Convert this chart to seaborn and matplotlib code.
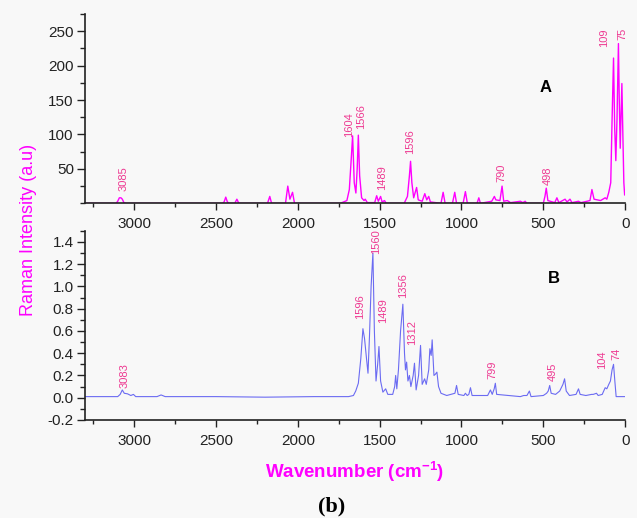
import numpy as np
import pandas as pd
import seaborn as sns
import matplotlib.pyplot as plt
from matplotlib.ticker import FixedLocator, MultipleLocator, FormatStrFormatter

# spectrum A (top): wavenumber / intensity
wn_a = [3300, 3110, 3100, 3090, 3080, 3072, 3062, 3050, 2460, 2450, 2440, 2430, 2420,
        2385, 2372, 2360, 2185, 2171, 2160, 2075, 2061, 2048, 2032, 2020, 1740, 1700,
        1685, 1672, 1665, 1655, 1645, 1637, 1630, 1622, 1610, 1595, 1588, 1575, 1530,
        1518, 1508, 1494, 1485, 1470, 1460, 1350, 1330, 1318, 1311, 1303, 1292, 1274,
        1264, 1240, 1224, 1212, 1200, 1190, 1125, 1112, 1100, 1055, 1041, 1030, 990,
        976, 964, 905, 894, 884, 815, 799, 790, 765, 752, 742, 720, 700, 640, 625, 611,
        600, 500, 490, 482, 472, 430, 417, 405, 367, 355, 337, 325, 285, 270, 215, 203,
        190, 150, 122, 112, 100, 88, 80, 71, 64, 57, 50, 41, 36, 30, 25, 20, 14, 8, 3]
int_a = [0, 0, 3, 8, 8, 6, 1, 0, 0, 2, 9, 2, 0,
         0, 6, 0, 0, 10, 0, 0, 25, 6, 16, 0, 0, 4,
         20, 70, 98, 30, 15, 50, 99, 40, 8, 4, 6, 1, 1,
         11, 3, 10, 2, 4, 0, 0, 10, 40, 61, 30, 8, 23,
         5, 3, 14, 5, 10, 2, 0, 16, 0, 0, 16, 0, 0,
         17, 0, 0, 8, 0, 3, 10, 5, 4, 25, 3, 4, 1, 3, 1, 3,
         0, 0, 10, 22, 4, 1, 8, 1, 6, 2, 6, 1, 3, 1, 4, 20,
         6, 4, 8, 6, 16, 30, 120, 211, 110, 62, 120, 232, 150, 80, 130, 174, 100, 30, 12]

# spectrum B (bottom)
wn_b = [3300, 3100, 3085, 3072, 3060, 3040, 3020, 3004, 2990, 2860, 2835, 2810, 2500,
        2200, 1900, 1690, 1660, 1646, 1630, 1615, 1602, 1592, 1580, 1571, 1562, 1552,
        1541, 1532, 1522, 1512, 1504, 1494, 1480, 1463, 1450, 1420, 1408, 1402, 1395,
        1385, 1372, 1358, 1348, 1342, 1335, 1327, 1318, 1309, 1295, 1287, 1277, 1262,
        1250, 1240, 1225, 1215, 1200, 1193, 1185, 1179, 1168, 1160, 1150, 1140, 1125,
        1090, 1040, 1030, 1020, 985, 976, 965, 955, 945, 935, 840, 823, 812, 800, 793,
        785, 640, 620, 600, 585, 575, 500, 480, 470, 461, 452, 425, 400, 380, 370, 360,
        340, 300, 285, 275, 240, 205, 195, 175, 165, 140, 122, 112, 100, 90, 80, 71,
        63, 55, 0]
int_b = [0.01, 0.01, 0.03, 0.07, 0.04, 0.035, 0.02, 0.03, 0.01, 0.01, 0.025, 0.01, 0.01,
         0.005, 0.01, 0.01, 0.02, 0.06, 0.13, 0.35, 0.62, 0.53, 0.35, 0.22, 0.55, 1.0,
         1.30, 0.6, 0.15, 0.30, 0.46, 0.15, 0.05, 0.08, 0.03, 0.03, 0.10, 0.20, 0.08,
         0.25, 0.6, 0.84, 0.4, 0.25, 0.32, 0.15, 0.20, 0.10, 0.2, 0.31, 0.07, 0.2,
         0.47, 0.12, 0.17, 0.12, 0.25, 0.44, 0.38, 0.52, 0.2, 0.21, 0.23, 0.10, 0.04,
         0.02, 0.04, 0.11, 0.03, 0.02, 0.04, 0.02, 0.03, 0.09, 0.02, 0.02, 0.07, 0.03, 0.08, 0.13,
         0.03, 0.01, 0.02, 0.02, 0.06, 0.01, 0.02, 0.04, 0.06, 0.11, 0.04, 0.03, 0.06, 0.12, 0.17, 0.06,
         0.02, 0.03, 0.08, 0.03, 0.02, 0.03, 0.03, 0.04, 0.02, 0.03, 0.09, 0.08, 0.12, 0.15, 0.25, 0.30,
         0.15, 0.01, 0.01]

# peak annotations: text, wavenumber, intensity at the foot of the label
labels_a = ['3085', '1604', '1566', '1489', '1596', '790', '498', '109', '75']
lab_wn_a = [3067, 1687, 1612, 1484, 1311, 758, 471, 126, 14]
lab_int_a = [18, 96, 108, 19, 72, 31, 27, 227, 237]

labels_b = ['3083', '1596', '1560', '1489', '1356', '1312', '799', '495', '104', '74']
lab_wn_b = [3059, 1620, 1524, 1478, 1356, 1301, 809, 445, 142, 55]
lab_int_b = [0.09, 0.71, 1.29, 0.67, 0.90, 0.47, 0.17, 0.15, 0.26, 0.34]

sns.set_theme(style='ticks')
plt.rcParams['font.family'] = ['Liberation Sans', 'DejaVu Sans']
plt.rcParams['mathtext.fontset'] = 'custom'
plt.rcParams['mathtext.rm'] = 'Liberation Sans'
plt.rcParams['mathtext.bf'] = 'Liberation Sans:bold'

BG = '#f8f8f8'
MAGENTA = '#ff00ff'
PINK = '#ee3a92'

fig = plt.figure(figsize=(6.37, 5.18), dpi=100, facecolor=BG)
ax_a = fig.add_axes([0.1334, 0.6075, 0.848, 0.3655])
ax_b = fig.add_axes([0.1334, 0.1892, 0.848, 0.3654])

df_a = pd.DataFrame({'wn': wn_a, 'intensity': int_a})
df_b = pd.DataFrame({'wn': wn_b, 'intensity': int_b})

sns.lineplot(data=df_a, x='wn', y='intensity', ax=ax_a, color=MAGENTA,
             linewidth=1.0, estimator=None, sort=False)
sns.lineplot(data=df_b, x='wn', y='intensity', ax=ax_b, color='#6b6bf2',
             linewidth=0.8, estimator=None, sort=False)

for t, x, y in zip(labels_a, lab_wn_a, lab_int_a):
    ax_a.text(x, y, t, rotation=90, ha='center', va='bottom', fontsize=8,
              color=PINK, clip_on=False)
for t, x, y in zip(labels_b, lab_wn_b, lab_int_b):
    ax_b.text(x, y, t, rotation=90, ha='center', va='bottom', fontsize=8,
              color=PINK, clip_on=False)

ax_a.text(489, 168, 'A', ha='center', va='center', fontsize=12, fontweight='bold', color='black')
ax_b.text(437, 1.07, 'B', ha='center', va='center', fontsize=12, fontweight='bold', color='black')

ax_a.set_ylim(0, 275)
ax_b.set_ylim(-0.2, 1.5)
ax_a.yaxis.set_major_locator(FixedLocator([50, 100, 150, 200, 250]))
ax_a.yaxis.set_minor_locator(MultipleLocator(25))
ax_b.yaxis.set_major_locator(MultipleLocator(0.2))
ax_b.yaxis.set_minor_locator(MultipleLocator(0.1))
ax_b.yaxis.set_major_formatter(FormatStrFormatter('%.1f'))

for ax in (ax_a, ax_b):
    ax.set_facecolor(BG)
    ax.set_xlim(3300, 0)
    ax.xaxis.set_major_locator(MultipleLocator(500))
    ax.xaxis.set_minor_locator(MultipleLocator(250))
    ax.set_xlabel('')
    ax.set_ylabel('')
    sns.despine(ax=ax)
    for s in ('left', 'bottom'):
        ax.spines[s].set_color('#222222')
        ax.spines[s].set_linewidth(1.2)
    ax.tick_params(axis='x', which='major', direction='out', length=5, width=1,
                   pad=5, labelsize=11, colors='#222222')
    ax.tick_params(axis='x', which='minor', direction='out', length=3, width=1,
                   colors='#222222')
    ax.tick_params(axis='y', which='major', direction='out', length=6, width=1,
                   pad=2, labelsize=11, colors='#222222')
    ax.tick_params(axis='y', which='minor', direction='out', length=3.5, width=1,
                   colors='#222222')

fig.text(0.044, 0.556, 'Raman Intensity (a.u)', rotation=90, ha='center', va='center',
         fontsize=13, color=MAGENTA)
fig.text(0.557, 0.089, r'Wavenumber (cm$^{\mathbf{-1}}$)', ha='center', va='center',
         fontsize=13.5, fontweight='bold', color=MAGENTA)
fig.text(0.521, 0.022, '(b)', ha='center', va='center', fontsize=16, fontweight='bold',
         family=['Liberation Serif', 'DejaVu Serif'], color='black')

plt.savefig('out.png', dpi=100, facecolor=BG)
